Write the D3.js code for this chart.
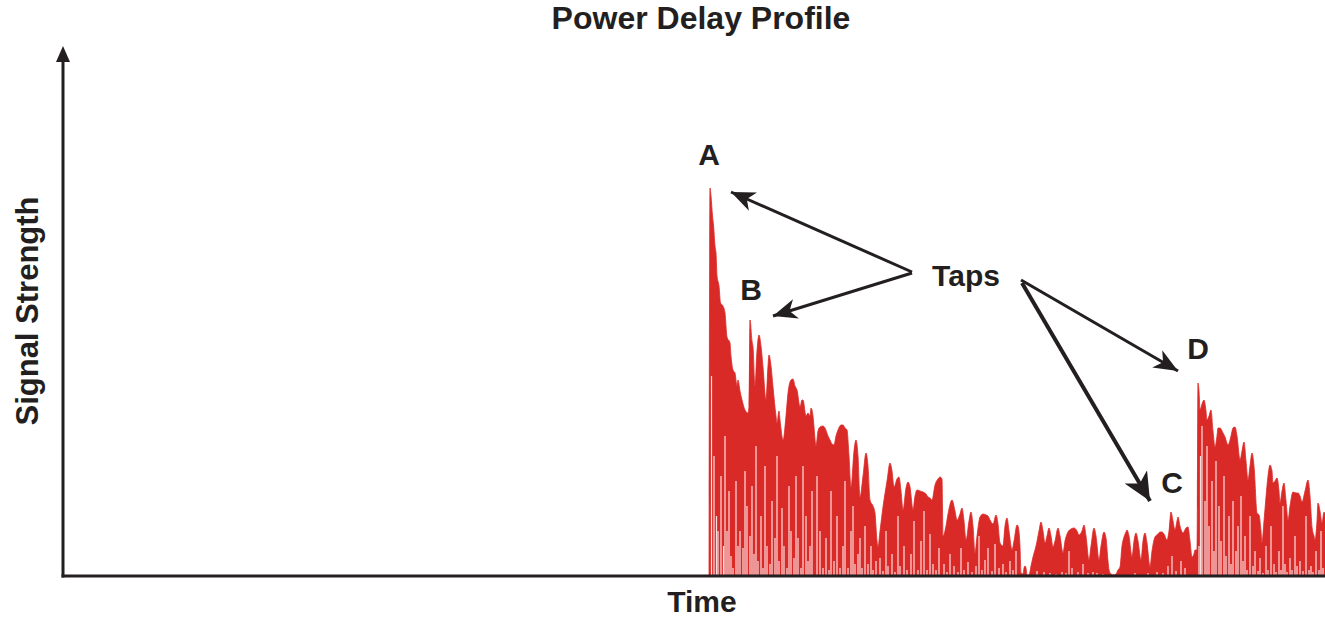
<!DOCTYPE html>
<html>
<head>
<meta charset="utf-8">
<script src="https://cdn.jsdelivr.net/npm/d3@7"></script>
<style>
  html, body { margin: 0; padding: 0; background: #fff; }
  svg { display: block; }
  text { font-family: "Liberation Sans", Arial, sans-serif; font-weight: bold; fill: #231f20; }
</style>
</head>
<body>
<div id="chart"></div>
<script>
// ---- Data (time in arbitrary units, signal strength in arbitrary units) ----
const title = "Power Delay Profile";
const xLabel = "Time";
const yLabel = "Signal Strength";
const timeDomain = [0, 1262];
const strengthDomain = [0, 528];

// Upper envelope of the received power: [time, strength]
const envelope = [
  [646,0],[647,388],[648,380],[649.5,360],[650.5,351],[652,330],[653,323],[654,300],[656,290],[657.5,273],
  [660,270],[662,263],[664,239],[667,233],[668,220],[670,206],[672,203],[674,190],[675,196],[677,185],
  [679,176],[682,166],[685,163],[686,170],[687,256],[689,235],[690,229],[692,190],[694,225],[696,241],
  [698,230],[700,209],[703,176],[705,210],[706,221],[708,210],[710,189],[713,160],[714,153],[716,165],
  [717,156],[720,136],[723,160],[725,183],[728,196],[730,197],[732,190],[734,186],[737,169],[739,176],
  [740,176],[743,160],[745,163],[747,160],[748,168],[750,160],[751,149],[753,130],[755,145],[757,149],
  [760,150],[762,148],[765,140],[767,136],[769,132],[771,131],[773,140],[775,146],[778,151],[780,151],
  [782,148],[784,146],[786,120],[788,89],[791,125],[793,136],[795,120],[797,79],[800,100],[803,123],
  [805,110],[807,76],[810,70],[812,63],[814,35],[815,29],[817,45],[820,69],[824,95],[827,113],
  [829,105],[831,89],[834,97],[836,99],[838,85],[840,66],[843,88],[845,94],[847,89],[850,66],
  [852,80],[854,86],[857,85],[860,84],[863,82],[865,79],[867,78],[869,76],[872,91],[875,97],
  [877,99],[879,97],[880,40],[883,50],[885,62],[889,76],[892,65],[894,56],[897,62],[899,68],
  [901,55],[903,36],[906,55],[908,64],[910,50],[912,23],[914,40],[917,59],[920,62],[923,61],
  [925,60],[927,56],[930,52],[933,61],[935,52],[937,33],[940,30],[942,50],[944,58],[946,45],
  [949,26],[951,35],[954,51],[955,50],[957,30],[958,3],[960,2],[961,8],[962,10],[963,8],
  [964,1],[966,1],[968,10],[970,19],[973,30],[976,45],[978,54],[980,45],[982,33],[984,40],
  [986,48],[988,40],[990,29],[992,35],[995,48],[997,40],[1000,23],[1002,35],[1005,44],[1008,47],
  [1011,48],[1014,45],[1016,41],[1019,45],[1021,51],[1023,40],[1026,16],[1028,30],[1031,48],[1033,40],
  [1036,16],[1038,30],[1041,44],[1043,38],[1045,15],[1046,6],[1048,2],[1050,1],[1053,2],[1055,6],
  [1057,9],[1059,30],[1061,39],[1063,44],[1064,46],[1066,40],[1069,19],[1071,35],[1073,43],[1075,35],
  [1078,16],[1080,35],[1082,43],[1084,33],[1087,9],[1089,25],[1092,39],[1095,42],[1097,44],[1099,44],
  [1101,42],[1104,36],[1106,45],[1108,64],[1110,55],[1112,46],[1114,55],[1115,59],[1117,50],[1120,43],
  [1123,48],[1125,49],[1127,35],[1129,19],[1131,22],[1132,26],[1134,26],[1135,193],[1136,185],[1137,166],
  [1139,172],[1141,176],[1143,165],[1144,156],[1146,160],[1148,166],[1150,145],[1152,129],[1154,140],[1155,148],
  [1157,148],[1160,143],[1162,139],[1165,131],[1168,140],[1170,148],[1172,149],[1174,140],[1177,116],[1179,125],
  [1181,134],[1183,115],[1185,96],[1187,110],[1189,123],[1191,110],[1194,63],[1196,61],[1198,45],[1199,33],
  [1201,55],[1203,79],[1205,100],[1207,111],[1209,105],[1210,93],[1212,95],[1214,98],[1216,85],[1217,73],
  [1219,85],[1221,93],[1223,75],[1225,56],[1227,70],[1230,84],[1233,83],[1235,83],[1237,80],[1239,74],
  [1242,85],[1245,96],[1247,80],[1249,49],[1251,40],[1252,36],[1254,55],[1255,73],[1257,65],[1259,53],
  [1261,64],[1262,62]
];

// Deep fades inside the profile (signal drops toward zero): [time, strength reached]
const fades = [
  [648.5,200],[651,120],[653.5,60],[655,45],[658,100],[660.5,30],[662,140],[664,45],[666,85],[668,20],
  [670,8],[673,95],[675,30],[677,45],[680,28],[682,105],[684,70],[687,40],[689,90],[691,22],
  [693,130],[695,15],[698,60],[700,8],[702,110],[704,30],[707,12],[709,75],[712,38],[714,120],
  [716,15],[719,68],[721,30],[724,8],[726,90],[728,45],[731,18],[733,100],[735,38],[738,8],
  [740,110],[743,60],[745,15],[747,30],[749,85],[754,100],[757,45],[760,8],[763,38],[766,6],
  [768,85],[771,15],[774,60],[777,8],[780,30],[782,95],[785,8],[788,45],[790,70],[792,12],
  [795,22],[797,38],[799,8],[802,50],[805,12],[808,30],[810,6],[813,15],[817,18],[820,5],
  [823,45],[825,10],[829,22],[832,4],[835,60],[837,10],[841,30],[844,6],[848,22],[851,55],
  [855,6],[858,35],[861,65],[864,6],[867,42],[870,12],[873,6],[876,28],[881,12],[884,4],
  [887,22],[891,10],[895,4],[898,28],[901,6],[905,14],[909,4],[913,10],[916,40],[919,6],
  [922,16],[925,28],[929,5],[932,32],[936,8],[940,12],[943,4],[947,15],[950,6],[953,25],
  [974,5],[981,4],[987,3],[993,2],[999,4],[1003,3],[1006,25],[1009,8],[1015,4],[1020,12],
  [1025,3],[1030,4],[1034,3],[1040,2],[1072,3],[1085,3],[1094,4],[1100,3],[1105,10],[1109,20],
  [1113,5],[1118,15],[1122,8],[1136,30],[1137.5,120],[1139,150],[1142,75],[1144,130],[1146,50],[1149,95],
  [1151,25],[1153,115],[1156,70],[1158,35],[1161,100],[1163,20],[1166,60],[1168,12],[1170,75],[1173,25],
  [1175,50],[1178,80],[1180,15],[1182,40],[1184,6],[1187,60],[1190,10],[1192,25],[1195,5],[1197,18],
  [1200,3],[1203,30],[1205,6],[1208,50],[1211,12],[1213,4],[1216,25],[1218,6],[1220,70],[1222,12],
  [1224,4],[1227,18],[1229,6],[1232,40],[1234,10],[1237,15],[1240,5],[1243,60],[1246,6],[1248,10],
  [1250,4],[1253,25],[1256,6],[1258,45],[1260,8]
];

// Annotation labels for the taps
const tapLabels = ["A", "B", "C", "D"];
const tapsText = "Taps";

// ---- Drawing ----
const W = 1325, H = 617;
const ink = "#231f20";
const red = "#da2a27";

const svg = d3.select("#chart").append("svg")
  .attr("width", W).attr("height", H);

const x = d3.scaleLinear().domain(timeDomain).range([63, 1325]);
const y = d3.scaleLinear().domain(strengthDomain).range([576, 48]);

const defs = svg.append("defs");
function marker(id, w, h) {
  defs.append("marker")
    .attr("id", id)
    .attr("viewBox", `0 0 ${w} ${h}`)
    .attr("refX", w).attr("refY", h / 2)
    .attr("markerWidth", w).attr("markerHeight", h)
    .attr("markerUnits", "userSpaceOnUse")
    .attr("orient", "auto")
    .append("path")
    .attr("d", `M0,0 L${w},${h/2} L0,${h} L${w*0.28},${h/2} Z`)
    .attr("fill", ink);
}
marker("ah", 24, 20);
marker("ahBig", 28, 26);

// Signal area
const area = d3.area()
  .x(d => x(d[0]))
  .y0(y(0))
  .y1(d => y(d[1]))
  .curve(d3.curveMonotoneX);

svg.append("path")
  .datum(envelope)
  .attr("d", area)
  .attr("fill", red)
  .attr("stroke", red)
  .attr("stroke-width", 0.8);

// Deep fades
svg.append("g").selectAll("line")
  .data(fades)
  .join("line")
  .attr("x1", d => x(d[0])).attr("x2", d => x(d[0]))
  .attr("y1", y(0)).attr("y2", d => y(d[1]))
  .attr("stroke", "#fff")
  .attr("stroke-width", 1.2)
  .attr("stroke-opacity", 0.85);

// Axes
svg.append("line")
  .attr("x1", x(0)).attr("x2", x(0))
  .attr("y1", y(0) + 1.5).attr("y2", 60)
  .attr("stroke", ink).attr("stroke-width", 3);
svg.append("path")
  .attr("d", `M${x(0)},46 L${x(0) + 7},62 L${x(0) - 7},62 Z`)
  .attr("fill", ink);
svg.append("line")
  .attr("x1", x(0) - 1.5).attr("x2", x(timeDomain[1]))
  .attr("y1", y(0)).attr("y2", y(0))
  .attr("stroke", ink).attr("stroke-width", 3);

// Titles
svg.append("text").attr("x", 701).attr("y", 29)
  .attr("text-anchor", "middle").attr("font-size", 32).text(title);
svg.append("text").attr("x", 702).attr("y", 612)
  .attr("text-anchor", "middle").attr("font-size", 30).text(xLabel);
svg.append("text")
  .attr("transform", "translate(38,311) rotate(-90)")
  .attr("text-anchor", "middle").attr("font-size", 31).text(yLabel);

// Tap labels
const labelPos = { A: [709, 165], B: [751, 300], C: [1172, 493], D: [1198, 359] };
svg.append("g").selectAll("text")
  .data(tapLabels)
  .join("text")
  .attr("x", d => labelPos[d][0]).attr("y", d => labelPos[d][1])
  .attr("text-anchor", "middle").attr("font-size", 30)
  .text(d => d);
svg.append("text").attr("x", 966).attr("y", 286)
  .attr("text-anchor", "middle").attr("font-size", 30).text(tapsText);

// Arrows
const arrows = [
  { from: [912, 272], to: [731, 192], w: 3, m: "ah" },
  { from: [912, 273], to: [773, 316], w: 3, m: "ah" },
  { from: [1021, 280], to: [1178, 371], w: 3, m: "ah" },
  { from: [1022, 283], to: [1150, 501], w: 4, m: "ahBig" }
];
svg.append("g").selectAll("line")
  .data(arrows)
  .join("line")
  .attr("x1", d => d.from[0]).attr("y1", d => d.from[1])
  .attr("x2", d => d.to[0]).attr("y2", d => d.to[1])
  .attr("stroke", ink).attr("stroke-width", d => d.w)
  .attr("marker-end", d => `url(#${d.m})`);
</script>
</body>
</html>
